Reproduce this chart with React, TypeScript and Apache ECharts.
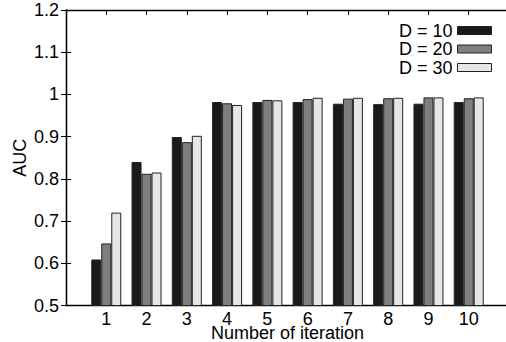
import React, { useEffect, useRef } from "react";
import * as echarts from "echarts";

const iterations = [1, 2, 3, 4, 5, 6, 7, 8, 9, 10];
const d10 = [0.609, 0.840, 0.899, 0.982, 0.982, 0.982, 0.978, 0.977, 0.978, 0.982];
const d20 = [0.647, 0.812, 0.887, 0.979, 0.987, 0.989, 0.990, 0.991, 0.993, 0.991];
const d30 = [0.720, 0.815, 0.902, 0.975, 0.986, 0.992, 0.992, 0.992, 0.993, 0.993];
const seriesNames = ["D = 10", "D = 20", "D = 30"];
const seriesColors = ["#1a1a1a", "#7f7f7f", "#e6e6e6"];

const FONT = "Liberation Sans, Arial, Helvetica, sans-serif";
const FS = 18;

export default function App() {
  const ref = useRef<HTMLDivElement>(null);
  useEffect(() => {
    if (!ref.current) return;
    const chart = echarts.init(ref.current, undefined, { renderer: "svg" });
    const allData = [d10, d20, d30];
    const axisLine = { show: true, lineStyle: { color: "#000", width: 1.3 } };
    const tick = { show: true, inside: true, length: 5, lineStyle: { color: "#000", width: 1 } };
    chart.setOption({
      animation: false,
      backgroundColor: "#fff",
      textStyle: { fontFamily: FONT },
      grid: { left: 66, top: 10, width: 443, height: 295.5, outerBoundsMode: "none", containLabel: false },
      legend: {
        orient: "vertical",
        right: 9,
        top: 16.5,
        align: "right",
        itemWidth: 34,
        itemHeight: 8,
        itemGap: 0.5,
        icon: "rect",
        textStyle: { fontSize: FS, color: "#000", fontFamily: FONT, lineHeight: 15 },
        itemStyle: { borderColor: "#222", borderWidth: 1 },
        data: seriesNames,
      },
      xAxis: [
        {
          type: "value",
          min: 0,
          max: 11,
          interval: 1,
          name: "Number of iteration",
          nameLocation: "middle",
          nameGap: 21,
          nameMoveOverlap: false,
          nameTextStyle: { fontSize: FS, color: "#000", fontFamily: FONT, lineHeight: 13 },
          axisLine,
          axisTick: tick,
          splitLine: { show: false },
          axisLabel: {
            fontSize: FS,
            lineHeight: 13,
            color: "#000",
            margin: 7,
            fontFamily: FONT,
            formatter: (v: number) => (iterations.indexOf(v) >= 0 ? String(v) : ""),
          },
        },
        {
          type: "value",
          position: "top",
          min: 0,
          max: 11,
          interval: 1,
          axisLine,
          axisTick: tick,
          splitLine: { show: false },
          axisLabel: { show: false },
        },
      ],
      yAxis: [
        {
          type: "value",
          min: 0.5,
          max: 1.2,
          interval: 0.1,
          name: "AUC",
          nameLocation: "middle",
          nameGap: 37,
          nameMoveOverlap: false,
          nameTextStyle: { fontSize: FS, color: "#000", fontFamily: FONT },
          axisLine,
          axisTick: tick,
          splitLine: { show: false },
          axisLabel: { fontSize: FS, color: "#000", margin: 7, fontFamily: FONT },
        },
        {
          type: "value",
          position: "right",
          min: 0.5,
          max: 1.2,
          interval: 0.1,
          axisLine,
          axisTick: tick,
          splitLine: { show: false },
          axisLabel: { show: false },
        },
      ],
      series: seriesNames.map((name, si) => ({
        name,
        type: "bar",
        xAxisIndex: 0,
        yAxisIndex: 0,
        barWidth: 10,
        barGap: "0%",
        itemStyle: { color: seriesColors[si], borderColor: "#222", borderWidth: 1 },
        data: iterations.map((it, i) => [it, allData[si][i]]),
      })),
    });
    return () => chart.dispose();
  }, []);
  return <div ref={ref} style={{ width: 506, height: 342, position: "absolute", left: 0, top: 0 }} />;
}
